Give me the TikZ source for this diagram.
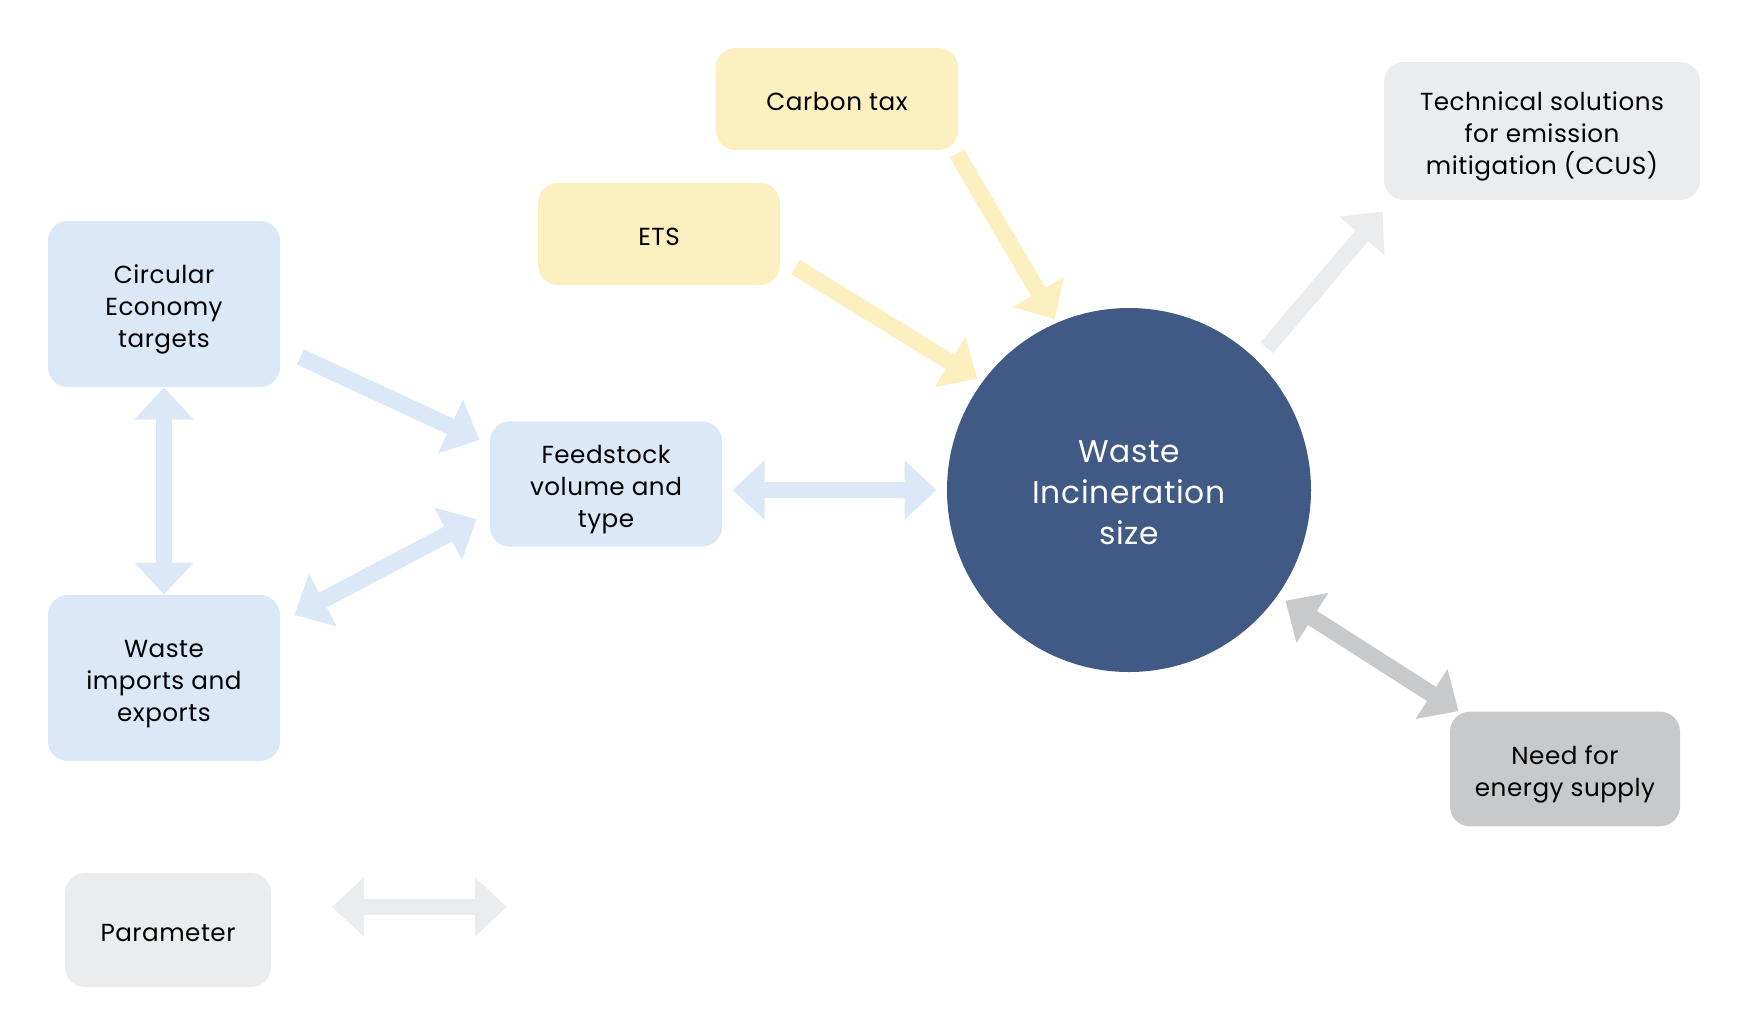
\documentclass[tikz,border=0pt]{standalone}
\usepackage{fontspec}
\setmainfont{Poppins}[LetterSpace=2]
\usetikzlibrary{arrows.meta,calc}

\definecolor{boxblue}{RGB}{218,232,247}
\definecolor{boxyellow}{RGB}{252,240,192}
\definecolor{boxgrey}{RGB}{235,236,238}
\definecolor{boxdarkgrey}{RGB}{200,201,203}
\definecolor{wisblue}{RGB}{64,89,133}

% top struts for the first line of each label
\newcommand{\lnstrut}{\rule{0pt}{23.3pt}}
\newcommand{\wisstrut}{\rule{0pt}{28.2pt}}

\tikzset{every picture/.style={line width=0.75pt},
  param/.style={rounded corners=15pt, inner sep=0pt, align=center, text=black,
    font=\fontsize{18.5}{24}\selectfont,
    execute at end node={\rule[-6pt]{0pt}{6pt}}},
  flow/.style={line width=12.5pt, -{Triangle[width=43pt,length=24pt]}},
  flowboth/.style={line width=12.5pt, {Triangle[width=43pt,length=24pt]}-{Triangle[width=43pt,length=24pt]}}
}

\begin{document}
\begin{tikzpicture}[x=0.75pt,y=0.75pt,yscale=-1,xscale=1]
%set diagram left start at 0, and has height of 1018
\useasboundingbox (0,0) rectangle (1760,1018);

%Shape: Rounded Rect [id:ce]
\node[param, fill=boxblue, minimum width=174pt, minimum height=124.5pt] (ce) at (164,304) {\lnstrut Circular\\Economy\\targets};
%Shape: Rounded Rect [id:wie]
\node[param, fill=boxblue, minimum width=174pt, minimum height=124.5pt] (wie) at (164,678) {\lnstrut Waste\\imports and\\exports};
%Shape: Rounded Rect [id:fs]
\node[param, fill=boxblue, minimum width=174pt, minimum height=94pt] (fs) at (606,484) {\lnstrut Feedstock\\volume and\\type};
%Shape: Rounded Rect [id:ets]
\node[param, fill=boxyellow, minimum width=181.5pt, minimum height=76.5pt] (ets) at (659,234) {\lnstrut ETS};
%Shape: Rounded Rect [id:ctax]
\node[param, fill=boxyellow, minimum width=182pt, minimum height=76.5pt] (ctax) at (837,99) {\lnstrut Carbon tax};
%Shape: Rounded Rect [id:tech]
\node[param, fill=boxgrey, minimum width=237pt, minimum height=103.5pt] (tech) at (1542,131) {\lnstrut Technical solutions\\for emission\\mitigation (CCUS)};
%Shape: Rounded Rect [id:nes]
\node[param, fill=boxdarkgrey, minimum width=172.5pt, minimum height=86pt] (nes) at (1565,769) {\lnstrut Need for\\energy supply};
%Shape: Rounded Rect [id:param]
\node[param, fill=boxgrey, minimum width=154.5pt, minimum height=85.5pt] (legend) at (168,930) {\lnstrut Parameter};
%Shape: Circle [id:wis]
\node[circle, fill=wisblue, minimum size=273pt, inner sep=0pt, align=center, text=white,
  font=\fontsize{23.5}{31}\selectfont,
  execute at end node={\rule[-8pt]{0pt}{8pt}}] (wis) at (1129,490) {\wisstrut Waste\\Incineration\\size};

%Straight Lines [id:ce-fs]
\draw[flow, boxblue] ($(ce.east)+(20,53)$) -- ($(fs.west)+(-10,-44)$);
%Straight Lines [id:fs-wie]
\draw[flowboth, boxblue] ($(fs.west)+(-13,35)$) -- ($(wie.east)+(14,-63)$);
%Straight Lines [id:ce-wie]
\draw[flowboth, boxblue] (ce.south) -- (wie.north);
%Straight Lines [id:fs-wis]
\draw[flowboth, boxblue] ($(fs.east)+(10,6)$) -- ($(wis.west)+(-10,0)$);
%Straight Lines [id:ets-wis]
\draw[flow, boxyellow] ($(ets.east)+(15,33)$) -- ($(wis.144)+(-4,-4)$);
%Straight Lines [id:ctax-wis]
\draw[flow, boxyellow] ($(ctax.south east)+(-2,3)$) -- ($(wis.113)+(-3,-2.5)$);
%Straight Lines [id:wis-tech]
\draw[flow, boxgrey] ($(wis.46)+(11,-11)$) -- ($(tech.south west)+(-1,11)$);
%Straight Lines [id:wis-nes]
\draw[flowboth, boxdarkgrey] ($(wis.-35)+(7,6)$) -- ($(nes.north west)+(9,0)$);

% Legend arrow
\coordinate (lgl) at (332,907);
\coordinate (lgr) at (507,907);
\draw[flowboth, boxgrey] (lgl) -- (lgr);

\end{tikzpicture}
\end{document}
